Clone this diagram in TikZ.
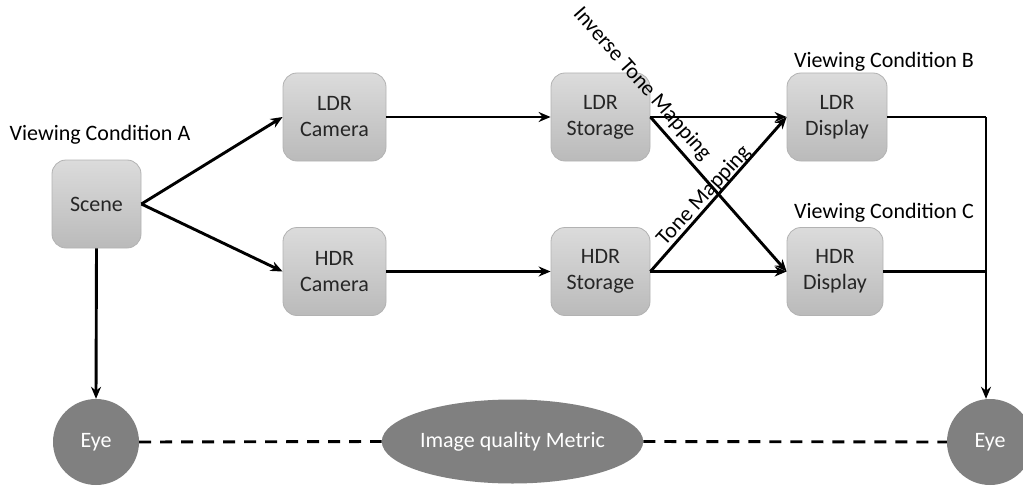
\documentclass[tikz,border=0pt]{standalone}
\usepackage{fontspec}
\setmainfont{Carlito}
\usetikzlibrary{shapes.geometric,arrows.meta}
\begin{document}
\begin{tikzpicture}[x=1pt,y=-1pt,
  font=\fontsize{22}{26}\selectfont,
  block/.style={rectangle, rounded corners=14pt, draw=black!30, line width=0.8pt,
    top color=black!14, bottom color=black!27, text=black!85,
    align=center, minimum height=88pt, inner sep=0pt},
  eye/.style={circle, fill=black!50, text=white, minimum size=86pt, inner sep=0pt},
  metric/.style={ellipse, fill=black!50, text=white, minimum width=251pt, minimum height=84pt, inner sep=0pt},
  flow/.style={line width=2.9pt, -{Stealth[length=12pt,width=10pt]}},
  plain/.style={line width=2.9pt},
  link/.style={line width=2.9pt, dash pattern=on 12pt off 9pt},
  caption/.style={inner sep=0pt}]
\useasboundingbox (0,0) rectangle (1023,487);

% processing blocks
\node[block, minimum width=89pt]  (scene) at (96.5,204) {Scene};
\node[block, minimum width=103pt] (ldrc)  at (334.5,117) {LDR\\Camera};
\node[block, minimum width=103pt] (hdrc)  at (334.5,271.5) {HDR\\Camera};
\node[block, minimum width=99pt]  (ldrs)  at (600.5,117) {LDR\\Storage};
\node[block, minimum width=99pt]  (hdrs)  at (600.5,271.5) {HDR\\Storage};
\node[block, minimum width=100pt] (ldrd)  at (837,117) {LDR\\Display};
\node[block, minimum width=96pt]  (hdrd)  at (835,271.5) {HDR\\Display};

% observers and metric
\node[eye] (eyeL) at (96,442) {Eye};
\node[eye] (eyeR) at (990,442) {Eye};
\node[metric] (iqm) at (512.5,441.5) {Image quality Metric};

% viewing condition captions
\node[caption] (vca) at (100,135) {Viewing Condition A};
\node[caption] (vcb) at (884,62) {Viewing Condition B};
\node[caption] (vcc) at (884,213) {Viewing Condition C};

% capture paths
\draw[flow] (scene.east) -- (ldrc.west);
\draw[flow] (scene.east) -- (hdrc.west);
\draw[flow] (ldrc.east) -- (ldrs.west);
\draw[flow] (hdrc.east) -- (hdrs.west);

% storage to display, direct and crossed
\draw[flow] (ldrs.east) -- (ldrd.west);
\draw[flow] (hdrs.east) -- (hdrd.west);
\draw[flow] (ldrs.east) -- (hdrd.west);
\draw[flow] (hdrs.east) -- (ldrd.west);

\node[caption, rotate=-48.5] (itm) at (642,84) {Inverse Tone Mapping};
\node[caption, rotate=47.5] (tm) at (704,196) {Tone Mapping};

% displays to the right-hand observer
\coordinate (j) at (986,117);
\draw[plain] (ldrd.east) -- (j);
\draw[plain] (hdrd.east) -- (j |- hdrd.east);
\draw[flow] (j) -- (j |- eyeR.north);

% scene to the left-hand observer
\draw[flow] (scene.south) -- (eyeL.north);

% comparison links
\draw[link] (eyeL.east) -- (iqm.west);
\draw[link] (iqm.east) -- (eyeR.west);
\end{tikzpicture}
\end{document}
